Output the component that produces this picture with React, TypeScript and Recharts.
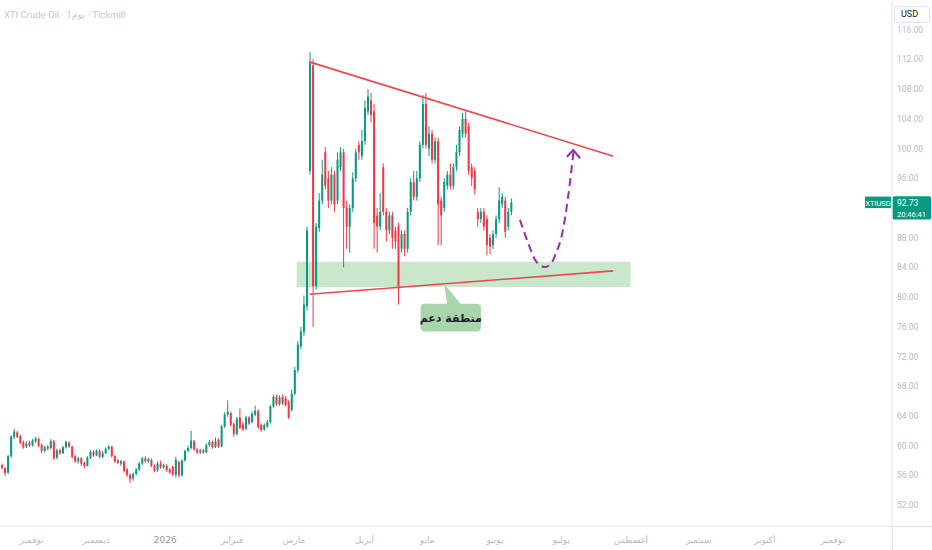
import {
  Bar,
  ComposedChart,
  Line,
  ReferenceArea,
  ReferenceDot,
  ReferenceLine,
  XAxis,
  YAxis,
} from "recharts";

// daily candles [open, high, low, close], late Oct 2025 -> early Jun 2026
const candles: [number, number, number, number][] = [
  [57.4, 57.6, 56.8, 57.0], [57.0, 57.1, 55.9, 56.3], [56.4, 58.8, 56.2, 58.6], [58.6, 61.4, 58.4, 61.2],
  [61.2, 62.3, 60.9, 61.9], [61.8, 62.0, 61.0, 61.2], [61.3, 61.5, 60.2, 60.4], [60.5, 60.7, 59.6, 59.8],
  [59.9, 60.6, 59.7, 60.3], [60.4, 60.7, 59.8, 60.0], [60.1, 60.9, 59.9, 60.7], [60.6, 61.2, 60.4, 61.0],
  [60.9, 61.1, 59.8, 60.0], [60.1, 60.3, 59.0, 59.3], [59.3, 60.0, 59.1, 59.8], [59.9, 60.1, 59.4, 59.6],
  [59.7, 60.9, 59.5, 60.6], [60.6, 60.8, 58.1, 58.3], [58.4, 59.6, 58.2, 59.4], [59.4, 59.6, 58.8, 59.0],
  [59.0, 60.0, 58.9, 59.8], [59.8, 60.7, 59.6, 60.5], [60.4, 60.6, 59.7, 59.9], [59.9, 60.0, 58.3, 58.5],
  [58.6, 58.8, 57.7, 57.9], [57.9, 58.5, 57.6, 58.3], [58.3, 58.5, 57.3, 57.6], [57.7, 57.9, 57.0, 57.3],
  [57.3, 58.6, 57.2, 58.4], [58.4, 59.4, 58.2, 59.2], [59.2, 59.4, 58.5, 58.7], [58.7, 59.5, 58.6, 59.3],
  [59.3, 59.5, 58.3, 58.5], [58.5, 59.3, 58.3, 59.0], [59.0, 59.8, 58.9, 59.6], [59.6, 60.1, 59.4, 59.9],
  [59.9, 60.0, 58.4, 58.6], [58.6, 58.8, 57.7, 57.9], [58.0, 58.2, 57.5, 57.7], [57.6, 58.1, 57.3, 57.9],
  [57.9, 58.0, 56.4, 56.6], [56.8, 57.0, 55.8, 56.1], [56.1, 56.3, 55.0, 55.5], [55.6, 56.4, 55.3, 56.2],
  [56.2, 57.0, 56.0, 56.8], [56.8, 57.8, 56.6, 57.6], [57.6, 58.5, 57.4, 58.3], [58.3, 58.6, 57.7, 57.9],
  [57.9, 58.4, 57.7, 58.2], [58.1, 58.3, 57.1, 57.3], [57.3, 57.5, 56.4, 56.6], [56.7, 57.9, 56.5, 57.6],
  [57.6, 58.0, 56.9, 57.1], [57.1, 57.6, 56.9, 57.4], [57.3, 57.5, 56.5, 56.7], [56.8, 57.0, 56.2, 56.4],
  [57.2, 57.3, 55.9, 56.1], [56.1, 58.5, 55.7, 58.1], [57.8, 58.0, 55.7, 56.0], [56.0, 58.2, 55.9, 58.0],
  [58.0, 59.5, 57.9, 59.3], [59.3, 60.0, 59.1, 59.7], [59.7, 62.0, 59.5, 60.7], [60.6, 60.8, 59.3, 59.5],
  [59.5, 59.7, 58.9, 59.1], [59.1, 59.6, 58.9, 59.4], [59.4, 59.6, 58.9, 59.1], [59.1, 60.3, 59.0, 60.1],
  [60.1, 60.8, 59.9, 60.5], [60.5, 60.7, 59.6, 59.8], [59.8, 61.1, 59.7, 60.6], [60.8, 61.0, 59.7, 59.9],
  [59.9, 62.8, 59.8, 62.6], [62.6, 64.5, 62.4, 64.2], [64.2, 66.1, 63.9, 64.6], [64.4, 64.6, 62.6, 62.8],
  [62.9, 63.1, 61.2, 61.6], [61.6, 63.9, 61.4, 63.6], [63.8, 65.0, 62.2, 62.4], [62.9, 63.2, 62.0, 62.2],
  [62.3, 64.0, 62.1, 63.8], [63.8, 64.0, 62.8, 63.0], [63.2, 64.6, 63.0, 64.3], [64.2, 65.4, 64.0, 64.7],
  [64.7, 64.9, 62.3, 62.5], [62.8, 63.0, 61.9, 62.1], [62.2, 63.0, 62.0, 62.8], [62.6, 63.5, 62.4, 63.2],
  [63.2, 65.5, 63.0, 65.3], [65.3, 66.9, 65.1, 66.6], [66.6, 66.9, 65.4, 65.6], [65.6, 66.8, 65.4, 66.5],
  [66.6, 66.9, 65.5, 65.7], [66.4, 66.7, 65.3, 65.5], [65.9, 66.1, 63.6, 63.8], [64.8, 67.6, 64.6, 67.0],
  [67.0, 70.6, 66.8, 70.2], [70.2, 74.1, 69.8, 73.6], [73.4, 76.0, 73.0, 75.4], [75.3, 80.2, 74.8, 79.0],
  [78.8, 89.5, 78.2, 89.0], [97.0, 113.0, 96.5, 111.5], [111.2, 112.0, 76.0, 81.5], [81.5, 90.0, 81.0, 89.5],
  [89.3, 94.0, 88.8, 93.0], [93.0, 98.5, 92.5, 96.5], [99.5, 100.2, 94.5, 95.0], [96.0, 97.0, 92.0, 93.0],
  [93.0, 97.5, 92.5, 96.5], [96.5, 97.0, 91.5, 92.5], [93.0, 99.5, 92.5, 98.5], [97.5, 100.2, 97.0, 99.5],
  [99.5, 100.0, 84.0, 92.0], [92.0, 93.0, 86.5, 89.5], [89.5, 92.5, 86.0, 92.0], [92.0, 96.8, 91.5, 96.0],
  [96.0, 100.0, 95.5, 99.5], [100.5, 101.0, 98.5, 99.5], [99.0, 102.5, 98.5, 101.0], [101.0, 106.5, 100.5, 105.5],
  [105.0, 108.0, 104.5, 107.0], [106.5, 107.5, 103.5, 104.5], [105.0, 106.0, 86.5, 90.0], [91.0, 92.0, 86.0, 89.5],
  [89.5, 94.0, 89.0, 91.5], [97.5, 98.0, 91.0, 91.5], [91.5, 92.0, 87.5, 89.0], [89.0, 91.5, 88.5, 91.0],
  [91.0, 91.5, 86.5, 88.0], [89.0, 89.5, 86.5, 87.5], [89.5, 90.0, 79.0, 81.5], [86.5, 89.0, 86.0, 88.5],
  [88.5, 89.0, 85.5, 86.5], [86.5, 92.0, 86.0, 91.5], [91.5, 96.0, 91.0, 95.5], [95.5, 97.0, 93.0, 93.5],
  [93.5, 97.0, 93.0, 96.0], [96.0, 101.0, 95.5, 100.5], [100.5, 107.2, 100.0, 106.0], [106.0, 107.5, 100.0, 100.5],
  [100.0, 103.0, 99.0, 102.0], [102.0, 102.5, 98.0, 98.5], [98.5, 101.5, 98.0, 101.0], [101.0, 101.5, 87.0, 92.5],
  [93.0, 93.5, 87.0, 91.0], [92.0, 96.0, 91.5, 95.5], [95.0, 97.0, 94.5, 96.5], [96.5, 98.0, 94.5, 95.0],
  [95.0, 98.0, 94.5, 97.5], [97.5, 100.5, 97.0, 99.5], [99.5, 103.0, 99.0, 102.5], [102.0, 104.8, 101.5, 104.0],
  [104.0, 105.0, 101.5, 102.0], [103.0, 103.5, 96.5, 97.0], [97.5, 98.0, 95.0, 96.0], [97.0, 97.5, 93.8, 94.5],
  [91.5, 92.0, 89.5, 90.5], [90.5, 92.0, 90.0, 91.5], [91.5, 92.0, 89.0, 89.5], [90.5, 91.0, 85.6, 87.0],
  [88.0, 88.5, 85.8, 86.8], [87.0, 89.0, 86.5, 88.5], [88.5, 91.0, 88.0, 90.5], [90.5, 94.8, 90.0, 93.0],
  [92.5, 94.0, 92.0, 93.5], [93.0, 93.5, 88.0, 88.8], [89.5, 92.0, 89.0, 91.5], [91.5, 93.3, 91.0, 92.73],
];

// bar positions of the first trading day of each month
const monthTicks = [9.7, 30.8, 53.5, 75.4, 95.7, 118.8, 139.4, 161.6, 183.4, 206.2, 228.4, 250.1, 272.4];
const monthLabels = [
  "نوفمبر", "ديسمبر", "2026", "فبراير", "مارس", "أبريل", "مايو",
  "يونيو", "يوليو", "أغسطس", "سبتمبر", "أكتوبر", "نوفمبر",
];
const priceTicks = [52, 56, 60, 64, 68, 72, 76, 80, 84, 88, 96, 100, 104, 108, 112, 116];

const lastPrice = 92.73;
const countdown = "20:46:41";

// drawings
const resistance = [{ x: 100.75, y: 111.67 }, { x: 200.4, y: 98.98 }];
const support = [{ x: 100.75, y: 80.4 }, { x: 200.4, y: 83.54 }];
const zone = { x1: 96.6, x2: 206.1, y1: 81.38, y2: 84.78 };
const projection = [
  { i: 169.8, p: 90.4 }, { i: 172.5, p: 87.3 }, { i: 174.8, p: 85.0 }, { i: 176.4, p: 84.3 },
  { i: 178.0, p: 84.05 }, { i: 180.0, p: 84.5 }, { i: 181.3, p: 85.6 }, { i: 183.9, p: 89.0 },
  { i: 185.6, p: 93.5 }, { i: 186.8, p: 97.5 }, { i: 187.4, p: 99.6 },
];
const arrowHead = [{ i: 185.2, p: 98.9 }, { i: 187.3, p: 99.8 }, { i: 189.5, p: 98.7 }];
const calloutTip = { x: 145, y: 81.79 };
const calloutText = "منطقة دعم";

const GREEN = "#089981";
const RED = "#f23645";
const AXIS = "#e0e3eb";
const MUTED = "#b8bbc3";

const data = candles.map(([o, h, l, c], i) => ({ i, o, h, l, c }));

function Candle(props: any) {
  const { x, y, width, height, payload } = props;
  if (x == null || !payload) return null;
  const { o, h, l, c } = payload;
  const cx = x + width / 2;
  const color = c >= o ? GREEN : RED;
  const span = h - l || 1;
  const py = (v: number) => y + ((h - v) / span) * height;
  const top = py(Math.max(o, c));
  const bot = py(Math.min(o, c));
  return (
    <g>
      <line x1={cx} x2={cx} y1={y} y2={y + height} stroke={color} strokeWidth={1} />
      <rect x={cx - 1} y={top} width={2} height={Math.max(bot - top, 0.8)} fill={color} />
    </g>
  );
}

function MonthTick(props: any) {
  const { x, y, payload } = props;
  const label = monthLabels[monthTicks.indexOf(payload.value)] ?? "";
  const isYear = /^\d+$/.test(label);
  return (
    <text
      x={x}
      y={y}
      dy={9}
      textAnchor="middle"
      fontSize={9}
      fill={isYear ? "#9598a1" : MUTED}
      fontFamily="'DejaVu Sans', Roboto, sans-serif"
    >
      {label}
    </text>
  );
}

function PriceTag(props: any) {
  const { viewBox } = props;
  if (!viewBox) return null;
  const right = viewBox.x + viewBox.width;
  const y = viewBox.y;
  return (
    <g fontFamily="Roboto, sans-serif">
      <rect x={right - 27} y={y - 6} width={26} height={11.5} fill={GREEN} />
      <text x={right - 14} y={y + 3} textAnchor="middle" fontSize={7.5} fill="#fff">
        XTIUSD
      </text>
      <rect x={right + 0.5} y={y - 6.4} width={38.5} height={23.3} rx={1.5} fill={GREEN} />
      <text x={right + 5} y={y + 3} fontSize={8.5} fill="#fff">
        {lastPrice.toFixed(2)}
      </text>
      <text x={right + 5} y={y + 14} fontSize={7.5} fill="#fff">
        {countdown}
      </text>
    </g>
  );
}

function Callout(props: any) {
  const { cx, cy } = props;
  if (cx == null) return null;
  const bx = cx - 23.6;
  const by = cy + 19.8;
  return (
    <g>
      <path d={`M${cx},${cy} L${cx + 17},${by + 1} L${cx + 3},${by + 1} Z`} fill="#a8d5a9" />
      <rect x={bx} y={by} width={60.3} height={27.7} rx={4} fill="#a8d5a9" />
      <text
        x={bx + 30.15}
        y={by + 18}
        textAnchor="middle"
        fontSize={11}
        fontWeight="bold"
        fill="#1e222d"
        fontFamily="'DejaVu Sans', sans-serif"
      >
        {calloutText}
      </text>
    </g>
  );
}

export default function App() {
  return (
    <div
      style={{
        position: "fixed",
        left: 0,
        top: 0,
        width: 932,
        height: 550,
        background: "#fff",
        overflow: "hidden",
        fontFamily: "Roboto, 'DejaVu Sans', sans-serif",
      }}
    >
      <ComposedChart
        width={932}
        height={550}
        data={data}
        margin={{ top: 0, right: 0, bottom: 0, left: 0 }}
      >
        <XAxis
          type="number"
          dataKey="i"
          domain={[-0.66, 291.8]}
          allowDataOverflow
          ticks={monthTicks}
          interval={0}
          tick={<MonthTick />}
          tickLine={false}
          axisLine={{ stroke: AXIS }}
          height={24}
        />
        <YAxis
          orientation="right"
          width={40}
          domain={[49.2, 120]}
          allowDataOverflow
          ticks={priceTicks}
          interval={0}
          tickFormatter={(v: number) => v.toFixed(2)}
          tick={{ fill: MUTED, fontSize: 8.5 }}
          tickLine={false}
          tickSize={3}
          tickMargin={2}
          axisLine={{ stroke: AXIS }}
        />
        <Bar
          dataKey={(d: any) => [d.l, d.h]}
          shape={Candle}
          barSize={2}
          isAnimationActive={false}
        />
        <ReferenceArea
          x1={zone.x1}
          x2={zone.x2}
          y1={zone.y1}
          y2={zone.y2}
          fill="#4caf50"
          fillOpacity={0.3}
          stroke="none"
        />
        <ReferenceLine segment={resistance} stroke="#f0444e" strokeWidth={1.6} />
        <ReferenceLine segment={support} stroke="#f0444e" strokeWidth={1.6} />
        <Line
          data={projection}
          dataKey="p"
          type="monotone"
          stroke="#9c27b0"
          strokeWidth={2}
          strokeDasharray="8 5"
          dot={false}
          activeDot={false}
          isAnimationActive={false}
        />
        <Line
          data={arrowHead}
          dataKey="p"
          type="linear"
          stroke="#9c27b0"
          strokeWidth={2}
          dot={false}
          activeDot={false}
          isAnimationActive={false}
        />
        <ReferenceDot
          x={calloutTip.x}
          y={calloutTip.y}
          r={0}
          shape={Callout}
          ifOverflow="visible"
        />
        <ReferenceLine y={lastPrice} stroke="none" label={<PriceTag />} />
      </ComposedChart>

      <div
        style={{
          position: "absolute",
          left: 4,
          top: 9,
          fontSize: 9.5,
          lineHeight: "12px",
          color: "#c5c7cd",
          whiteSpace: "nowrap",
          direction: "ltr",
        }}
      >
        XTI Crude Oil · 1<bdi>يوم</bdi> · Tickmill
      </div>
      <div
        style={{
          position: "absolute",
          left: 894,
          top: 6,
          width: 36,
          height: 17,
          boxSizing: "border-box",
          border: `1px solid ${AXIS}`,
          borderRadius: 3,
          background: "#fff",
          fontSize: 9,
          lineHeight: "15px",
          paddingLeft: 6,
          color: "#131722",
        }}
      >
        USD
      </div>
      <div style={{ position: "absolute", left: 892, top: 526, width: 1, height: 24, background: AXIS }} />
      <div style={{ position: "absolute", left: 892, top: 526, width: 40, height: 1, background: AXIS }} />
    </div>
  );
}
